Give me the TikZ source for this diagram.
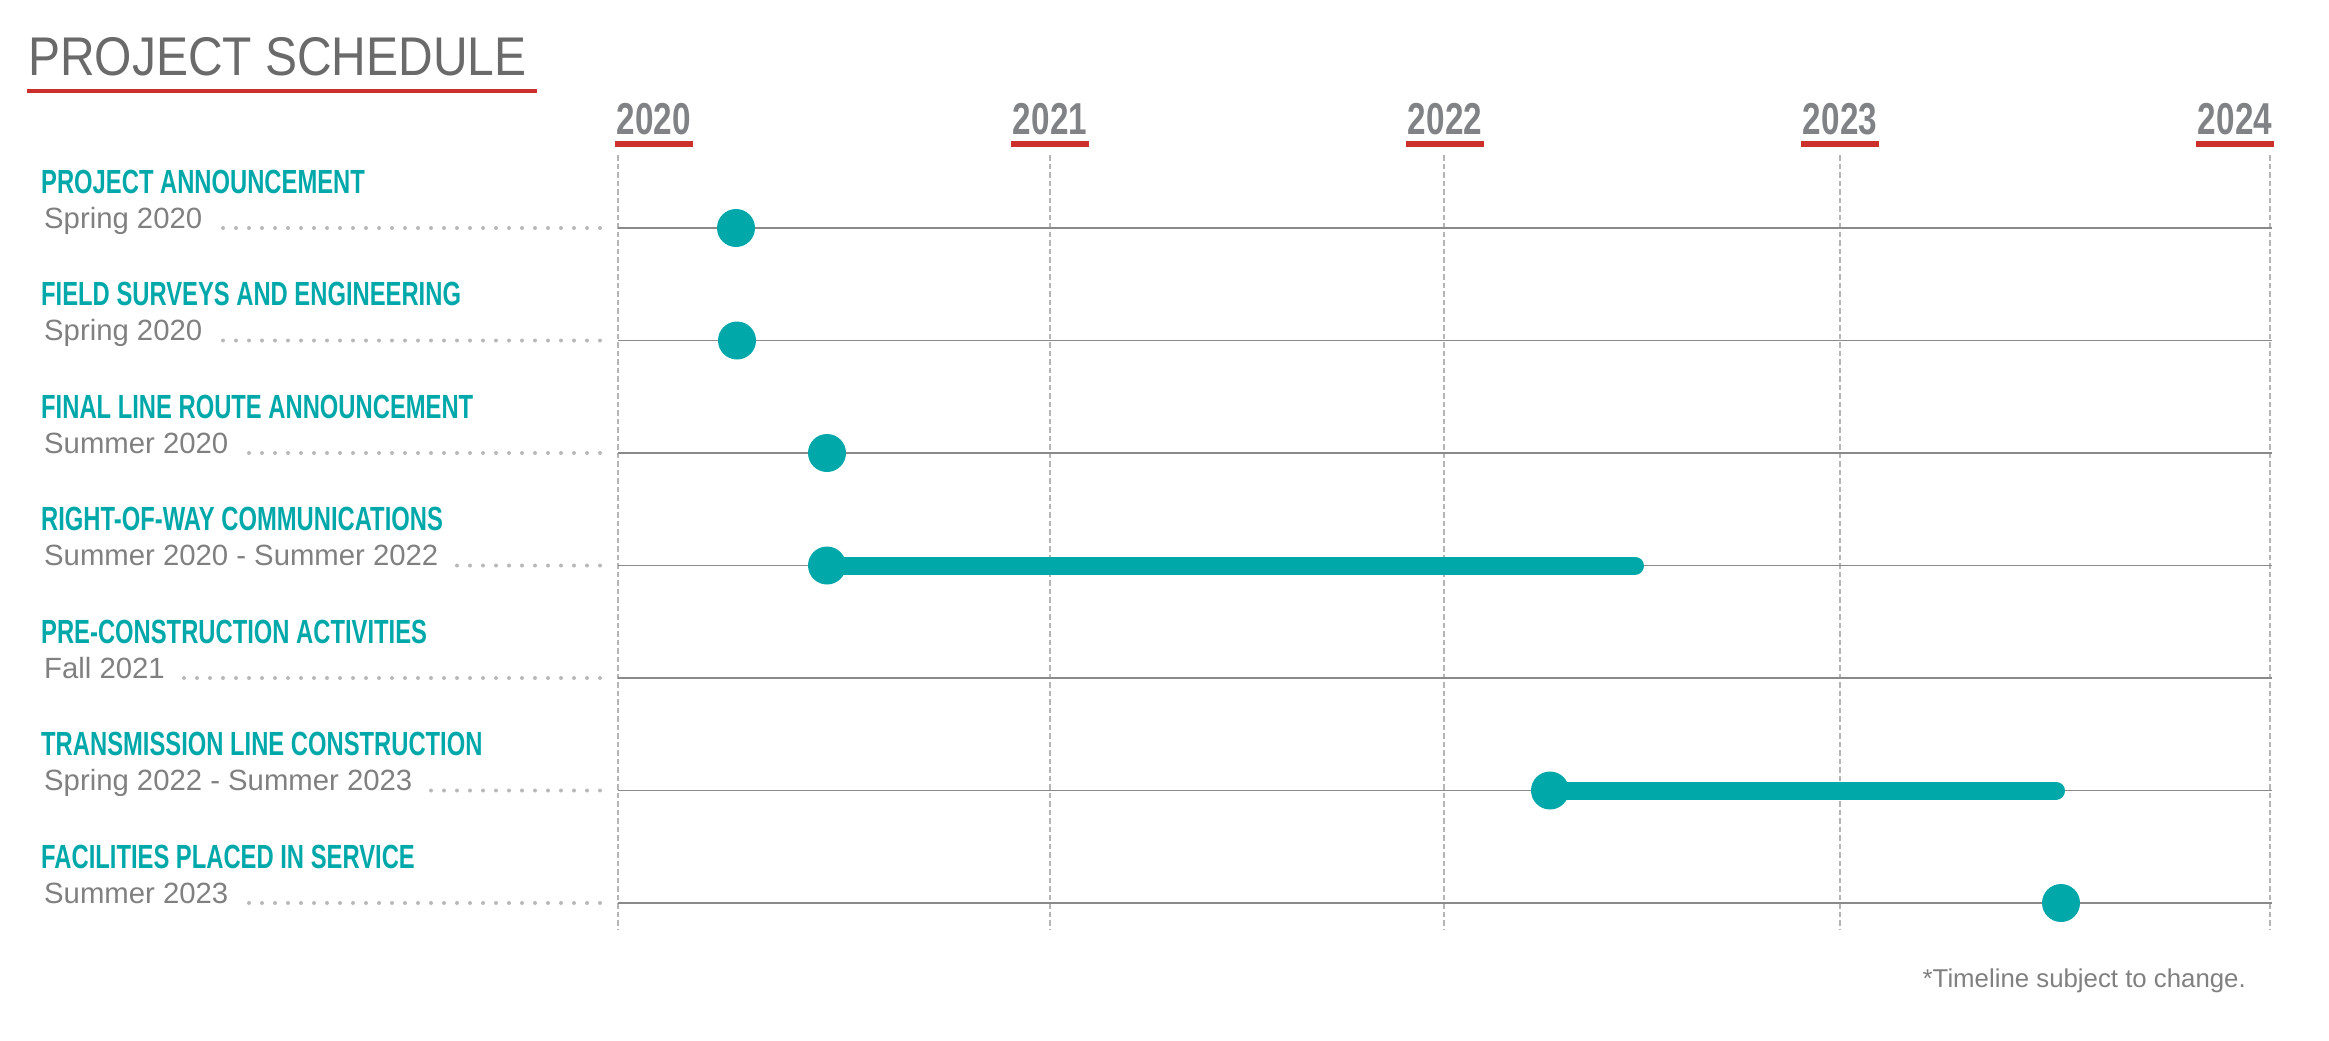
\documentclass[tikz,border=0pt]{standalone}
\usepackage{fontspec}
\setmainfont{Liberation Sans}
\newfontfamily\titlefont[FakeStretch=0.88]{Liberation Sans}
\newfontfamily\yearfont[FakeStretch=0.745]{Liberation Sans Bold}
\newfontfamily\headfont[FakeStretch=0.71]{Liberation Sans Bold}
\newfontfamily\subfont{Liberation Sans}
\definecolor{teal}{HTML}{00A8AA}
\definecolor{accred}{HTML}{CC302C}
\definecolor{titlegray}{HTML}{6A6A6A}
\definecolor{yeargray}{HTML}{808285}
\definecolor{subgray}{HTML}{808080}
\definecolor{rowgray}{HTML}{8A8A8A}
\definecolor{dashgray}{HTML}{B5B5B5}
\definecolor{dotgray}{HTML}{B8B8B8}
\begin{document}
\begin{tikzpicture}[x=1pt,y=-1pt,
  titlestyle/.style={inner sep=0pt,anchor=base west,text=titlegray,font=\titlefont\fontsize{54.5pt}{60pt}\selectfont},
  yearstyle/.style={inner xsep=2pt,inner ysep=0pt,anchor=base,text=yeargray,font=\yearfont\fontsize{44.7pt}{50pt}\selectfont},
  headstyle/.style={inner sep=0pt,anchor=base west,text=teal,font=\headfont\fontsize{33.5pt}{40pt}\selectfont},
  substyle/.style={inner sep=0pt,anchor=base west,text=subgray,font=\subfont\fontsize{29.3pt}{34pt}\selectfont},
  notestyle/.style={inner sep=0pt,anchor=base east,text=subgray,font=\subfont\fontsize{25.8pt}{30pt}\selectfont},
  redbar/.style={draw=accred,line width=6pt},
  titlebar/.style={draw=accred,line width=4.5pt},
  gridline/.style={draw=dashgray,line width=2pt,dash pattern=on 5.5pt off 3pt},
  rowline/.style={draw=rowgray,line width=1.6pt},
  leader/.style={draw=dotgray,line width=4pt,line cap=round,dash pattern=on 0pt off 13pt},
  milestone/.style={circle,fill=teal,inner sep=0pt,minimum size=38pt},
  span/.style={draw=teal,line width=18pt,line cap=round}]
\useasboundingbox (0,0) rectangle (2329,1041);

% title
\node[titlestyle] (title) at (28,76) {PROJECT SCHEDULE};
\coordinate (tu1) at (27,91);
\coordinate (tu2) at (537,91);
\draw[titlebar] (tu1) -- (tu2);

% years
\foreach \n/\yr/\cx/\lx in {0/2020/654/618,1/2021/1050/1050,2/2022/1445/1444,3/2023/1840/1840,4/2024/2235/2270}{
  \node[yearstyle] (y\n) at (\cx,134) {\yr};
  \draw[redbar] ([yshift=-10pt]y\n.base -| y\n.west) -- ([yshift=-10pt]y\n.base -| y\n.east);
  \coordinate (gt\n) at (\lx,155);
  \coordinate (gb\n) at (\lx,930);
  \draw[gridline] (gt\n) -- (gb\n);
}

% rows
\foreach \i/\yy/\head/\sub in {
  1/228/PROJECT ANNOUNCEMENT/Spring 2020,
  2/340.5/FIELD SURVEYS AND ENGINEERING/Spring 2020,
  3/453/FINAL LINE ROUTE ANNOUNCEMENT/Summer 2020,
  4/565.5/RIGHT-OF-WAY COMMUNICATIONS/Summer 2020 - Summer 2022,
  5/678/PRE-CONSTRUCTION ACTIVITIES/Fall 2021,
  6/790.5/TRANSMISSION LINE CONSTRUCTION/Spring 2022 - Summer 2023,
  7/903/FACILITIES PLACED IN SERVICE/Summer 2023}{
  \node[headstyle] (h\i) at (41,\yy-35) {\head};
  \node[substyle] (s\i) at (44,\yy) {\sub};
  \coordinate (d\i) at (600,\yy);
  \draw[leader] (d\i) -- ([xshift=14pt]s\i.base east);
  \coordinate (ra\i) at (618,\yy);
  \coordinate (rb\i) at (2272,\yy);
  \draw[rowline] (ra\i) -- (rb\i);
}

% milestones
\node[milestone] (c1) at (736,228) {};
\node[milestone] (c2) at (737,340.5) {};
\node[milestone] (c3) at (827,453) {};
\node[milestone] (c4) at (827,565.5) {};
\coordinate (e4) at (1635,565.5);
\draw[span] (c4.center) -- (e4);
\node[milestone] (c6) at (1550,790.5) {};
\coordinate (e6) at (2056,790.5);
\draw[span] (c6.center) -- (e6);
\node[milestone] (c7) at (2061,903) {};

% footnote
\node[notestyle] (note) at (2246,987) {*Timeline subject to change.};
\end{tikzpicture}
\end{document}
